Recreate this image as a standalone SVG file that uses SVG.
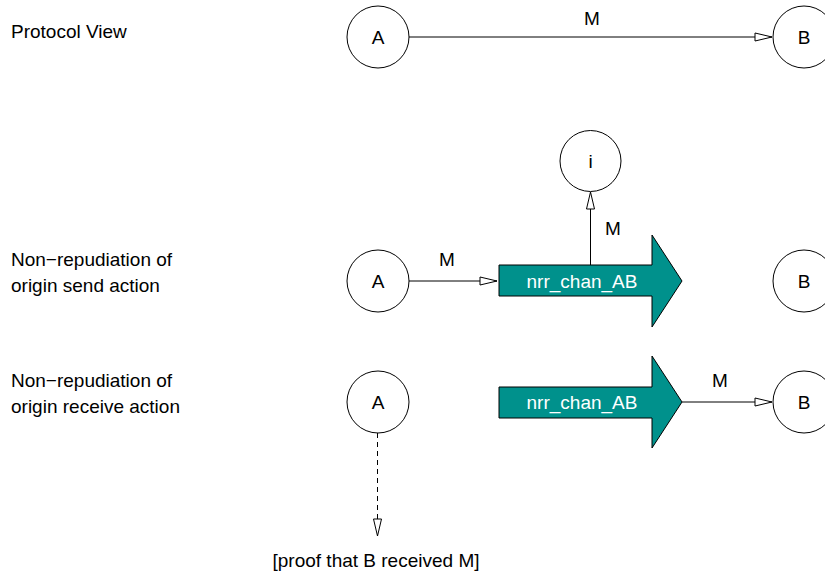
<svg xmlns="http://www.w3.org/2000/svg" width="825" height="576" viewBox="0 0 825 576">
<style>
text{font-family:"Liberation Sans",Arial,Helvetica,sans-serif;font-size:19px;fill:#000}
.c{text-anchor:middle}
.node circle{fill:#fff;stroke:#000;stroke-width:1}
.chan polygon{fill:#00918c;stroke:#000;stroke-width:1}
.chan text{fill:#fff;text-anchor:middle}
.edge{stroke:#000;stroke-width:1;fill:none;marker-end:url(#ah)}
.dash{stroke-dasharray:5 4}
</style>
<defs>
<marker id="ah" markerUnits="userSpaceOnUse" markerWidth="20" markerHeight="12" refX="17" refY="5" orient="auto" viewBox="-1 0 20 10">
<path d="M0,1 L17,5 L0,9 Z" fill="#fff" stroke="#000" stroke-width="1" stroke-dasharray="none"/>
</marker>
</defs>
<rect width="825" height="576" fill="#fff"/>
<g id="labels">
<text x="11" y="38">Protocol View</text>
<text x="11" y="266">Non−repudiation of</text>
<text x="11" y="292">origin send action</text>
<text x="11" y="387">Non−repudiation of</text>
<text x="11" y="413">origin receive action</text>
</g>
<g id="connectors">
<line class="edge" x1="409" y1="37" x2="772" y2="37"/>
<text class="c" x="592" y="25">M</text>
<line class="edge" x1="409" y1="281" x2="497" y2="281"/>
<text class="c" x="447" y="266">M</text>
<line class="edge" x1="590.5" y1="265" x2="590.5" y2="192"/>
<text class="c" x="613" y="235">M</text>
<line class="edge" x1="682" y1="402" x2="772" y2="402"/>
<text class="c" x="720" y="387">M</text>
<line class="edge dash" x1="377.5" y1="433" x2="377.5" y2="536"/>
<text class="c" x="376" y="567">[proof that B received M]</text>
</g>
<g id="A1" class="node"><circle cx="378" cy="37" r="31"/><text class="c" x="378" y="44">A</text></g>
<g id="B1" class="node"><circle cx="804" cy="37" r="31"/><text class="c" x="804" y="44">B</text></g>
<g id="i" class="node"><circle cx="590.5" cy="161" r="30.5"/><text class="c" x="590.5" y="168">i</text></g>
<g id="A2" class="node"><circle cx="378" cy="281" r="31"/><text class="c" x="378" y="288">A</text></g>
<g id="chan2" class="chan"><polygon points="499,265 652,265 652,235 682,281 652,327 652,296 499,296"/><text x="582" y="287.5">nrr_chan_AB</text></g>
<g id="B2" class="node"><circle cx="804" cy="281" r="31"/><text class="c" x="804" y="288">B</text></g>
<g id="A3" class="node"><circle cx="378" cy="402" r="31"/><text class="c" x="378" y="409">A</text></g>
<g id="chan3" class="chan"><polygon points="499,387 652,387 652,356 682,402 652,448 652,418 499,418"/><text x="582" y="408.5">nrr_chan_AB</text></g>
<g id="B3" class="node"><circle cx="804" cy="402" r="31"/><text class="c" x="804" y="409">B</text></g>
</svg>
